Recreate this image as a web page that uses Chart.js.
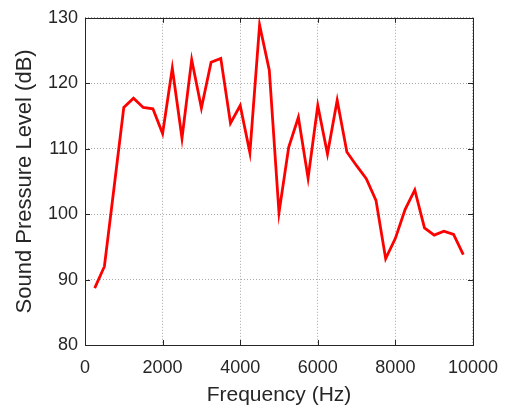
<!DOCTYPE html>
<html lang="en">
<head>
    <meta charset="UTF-8">
    <title>Sound Pressure Level</title>
    <script src="https://cdn.jsdelivr.net/npm/chart.js"></script>
    <style>
        html, body { margin: 0; padding: 0; background: #fff; }
        .chart-box { width: 510px; height: 408px; }
    </style>
</head>
<body>
    <div class="chart-box">
        <canvas id="splChart" width="510" height="408"></canvas>
    </div>

    <script>
        // Measured spectrum
        const freqs = [250, 500, 750, 1000, 1250, 1500, 1750, 2000, 2250, 2500,
                       2750, 3000, 3250, 3500, 3750, 4000, 4250, 4500, 4750, 5000,
                       5250, 5500, 5750, 6000, 6250, 6500, 6750, 7000, 7250, 7500,
                       7750, 8000, 8250, 8500, 8750, 9000, 9250, 9500, 9750];
        const spl = [88.7, 92.0, 104.1, 116.3, 117.7, 116.3, 116.1, 112.3, 122.3, 111.6,
                     123.6, 116.2, 123.2, 123.8, 113.9, 116.6, 109.4, 128.9, 122.0, 100.2,
                     110.2, 114.8, 105.5, 116.6, 109.2, 117.4, 109.5, 107.4, 105.4, 102.1,
                     93.2, 96.3, 100.7, 103.7, 97.9, 96.8, 97.4, 96.9, 93.8];
        const xTicks = [0, 2000, 4000, 6000, 8000, 10000];
        const yTicks = [80, 90, 100, 110, 120, 130];

        const axisColor = '#262626';

        // box around the axes with short inward ticks on all four sides
        const boxTicks = {
            id: 'boxTicks',
            afterDraw(chart) {
                const { ctx, chartArea: a, scales } = chart;
                const len = 5;
                ctx.save();
                ctx.strokeStyle = axisColor;
                ctx.lineWidth = 1;
                ctx.beginPath();
                xTicks.forEach(v => {
                    const px = Math.round(scales.x.getPixelForValue(v)) + 0.5;
                    ctx.moveTo(px, a.bottom); ctx.lineTo(px, a.bottom - len);
                    ctx.moveTo(px, a.top); ctx.lineTo(px, a.top + len);
                });
                yTicks.forEach(v => {
                    const py = Math.round(scales.y.getPixelForValue(v)) + 0.5;
                    ctx.moveTo(a.left, py); ctx.lineTo(a.left + len, py);
                    ctx.moveTo(a.right, py); ctx.lineTo(a.right - len, py);
                });
                ctx.stroke();
                ctx.strokeRect(Math.round(a.left) + 0.5, Math.round(a.top) + 0.5,
                               Math.round(a.right - a.left), Math.round(a.bottom - a.top));
                ctx.restore();
            }
        };

        const ctx = document.getElementById('splChart').getContext('2d');
        new Chart(ctx, {
            type: 'line',
            data: {
                datasets: [{
                    data: freqs.map((f, i) => ({ x: f, y: spl[i] })),
                    borderColor: '#ff0000',
                    borderWidth: 2.8,
                    pointRadius: 0,
                    tension: 0,
                    fill: false
                }]
            },
            options: {
                responsive: false,
                animation: false,
                layout: { padding: { left: 12, top: 17, right: 33, bottom: 0 } },
                plugins: {
                    legend: { display: false },
                    tooltip: { enabled: false }
                },
                scales: {
                    x: {
                        type: 'linear',
                        min: 0,
                        max: 10000,
                        afterBuildTicks: s => { s.ticks = xTicks.map(v => ({ value: v })); },
                        afterFit: s => { s.height = 63; },
                        ticks: {
                            color: axisColor,
                            font: { family: 'Liberation Sans, Arial', size: 18 },
                            padding: 12,
                            maxRotation: 0,
                            callback: v => String(v)
                        },
                        grid: { color: '#a8a8a8', lineWidth: 1, drawTicks: false },
                        border: { display: false, dash: [1, 2] },
                        title: {
                            display: true,
                            text: 'Frequency (Hz)',
                            color: axisColor,
                            font: { family: 'Liberation Sans, Arial', size: 21 },
                            padding: { top: 3, bottom: 0 }
                        }
                    },
                    y: {
                        min: 80,
                        max: 130,
                        afterBuildTicks: s => { s.ticks = yTicks.map(v => ({ value: v })); },
                        afterFit: s => { s.width = 73; },
                        ticks: {
                            color: axisColor,
                            font: { family: 'Liberation Sans, Arial', size: 18 },
                            padding: 7
                        },
                        grid: { color: '#a8a8a8', lineWidth: 1, drawTicks: false },
                        border: { display: false, dash: [1, 2] },
                        title: {
                            display: true,
                            text: 'Sound Pressure Level (dB)',
                            color: axisColor,
                            font: { family: 'Liberation Sans, Arial', size: 22 },
                            padding: { top: 0, bottom: 4 }
                        }
                    }
                }
            },
            plugins: [boxTicks]
        });
    </script>
</body>
</html>
